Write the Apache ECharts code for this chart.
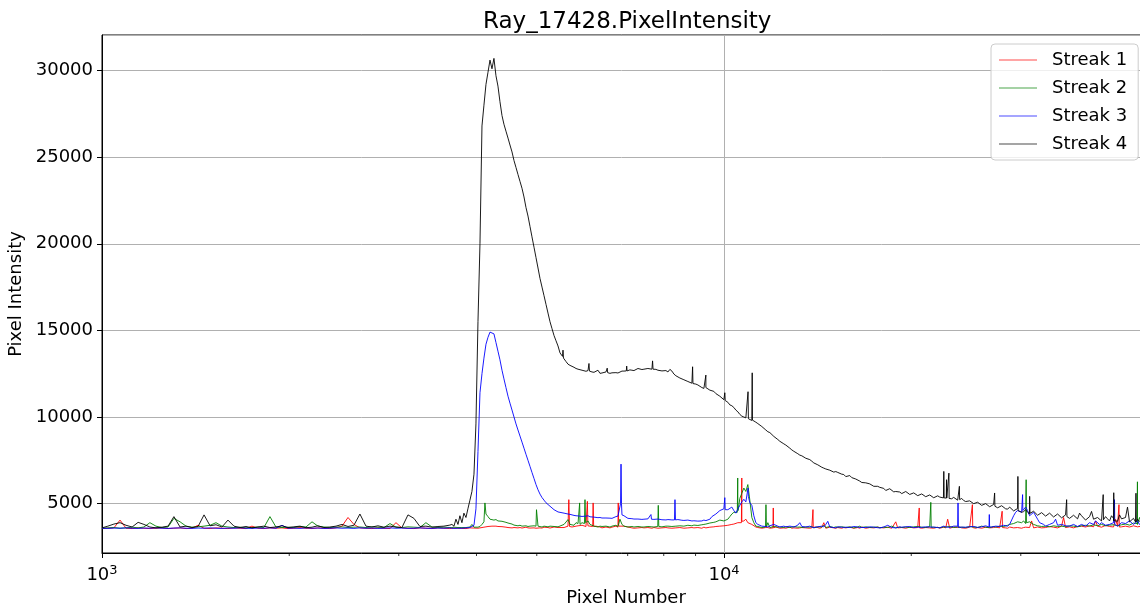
<!DOCTYPE html>
<html><head><meta charset="utf-8">
<script src="https://cdn.jsdelivr.net/npm/echarts@6.0.0/dist/echarts.min.js"></script>
<style>html,body{margin:0;padding:0;background:#fff}#chart{width:1140px;height:606px}</style>
</head><body><div id="chart"></div>
<script>
// Pixel numbers (x positions of the sampled points)
const pixelNumbers = [
1000,1022,1045,1069,1093,1118,1143,1168,1194,1221,
1249,1277,1305,1335,1365,1395,1427,1459,1492,1525,
1559,1594,1630,1667,1704,1742,1781,1821,1862,1904,
1947,1991,2035,2081,2128,2176,2224,2274,2325,2378,
2431,2486,2541,2598,2657,2716,2777,2840,2904,2969,
3035,3104,3173,3244,3317,3392,3468,3546,3625,
3652,3680,3707,3735,3762,3790,3818,3847,3875,3904,
3933,3963,3992,4022,4052,4082,4112,4143,4174,4205,
4236,4267,4299,4331,4363,4396,4428,4461,4495,4528,
4562,4596,4630,4664,4699,4734,4769,4804,4840,4876,
4912,4949,4986,5023,5060,5098,5136,5174,5212,5251,
5290,5330,5369,5409,5449,
5531,5613,5697,5782,5868,5955,6044,6134,6225,6318,
6412,6508,6605,6703,6803,6905,7007,7112,7218,7325,
7435,7545,7658,7772,7888,8005,8125,8246,8369,8493,
8620,8748,8879,9011,9145,9282,9420,9560,9703,9847,
9994,10143,10294,10448,10603,10762,10922,11085,11250,11418,
11588,11761,11936,12114,12295,12478,12664,12853,13044,13239,
13436,13636,13840,14046,14255,14468,14684,14902,15125,15350,
15579,15811,16047,16286,16529,16775,17025,17279,17536,17798,
18063,18332,18605,18883,19164,19450,19740,20034,20332,20635,
20943,21255,21572,21893,22220,22551,22887,23228,23574,23926,
24282,24644,25011,25384,25762,26146,26536,26931,27333,27740,
28153,28573,28999,29431,29869,30315,30766,31225,31690,32163,
32642,33128,33622,34123,34632,35148,35672,36203,36743,37290,
37846,38410,38982,39563,40153,40751,41359,41975,42600,43235,
43880,44533,45197,45871,46554
];
// Extra in-between pixel numbers for the noisy right-hand part
const pixelNumbersFine = [
5572,5655,5739,5825,5912,5999,6089,6180,6271,6365,
6460,6556,6654,6753,6854,6956,7059,7165,7272,7379,
7490,7601,7715,7830,7947,8065,8185,8307,8431,8556,
8684,8813,8945,9078,9213,9351,9490,9631,9775,9920,
10068,10218,10371,10526,10682,10842,11003,11167,11334,11503,
11674,11849,12025,12204,12386,12571,12758,12949,13141,13338,
13536,13737,13943,14150,14361,14576,14793,15013,15238,15464,
15695,15929,16166,16407,16652,16900,17152,17408,17666,17930,
18197,18468,18743,19023,19307,19595,19887,20183,20483,20789,
21099,21413,21732,22056,22385,22719,23057,23401,23749,24104,
24463,24827,25197,25573,25954,26341,26733,27131,27536,27946,
28362,28786,29215,29650,30091,30541,30995,31457,31926,32402,
32885,33374,33872,34377,34890,35409,35937,36472,37016,37567,
38128,38696,39272,39857,40452,41054,41667,42287,42917,43557,
44206,44864,45533,46212,46900
];

// Streak 1 (red) intensity at pixelNumbers
const streak1 = [
3560,3580,3600,4050,3580,3560,3600,3580,3560,3580,
3600,3560,3580,3600,3560,3580,3750,3580,3560,3600,
3580,3560,3600,3580,3560,3700,3580,3560,3600,3580,
3600,3560,3580,3620,3580,3560,3600,3580,3560,3600,
3700,4200,3800,3600,3580,3560,3600,3580,3560,3900,
3600,3580,3560,3600,3580,3560,3600,3580,3560,
3570,3590,3560,3580,3600,3570,3590,3560,3580,3600,
3570,3590,3600,3580,3600,3620,3640,3660,3680,3690,
3700,3690,3700,3680,3690,3670,3650,3640,3620,3610,
3600,3620,3590,3600,3620,3590,3600,3640,3600,3590,
3620,3600,3580,3620,3600,3590,3640,3600,3620,3590,
3600,3650,3600,3620,3600,
3620,3700,3650,3700,3800,3700,3750,3650,3700,3650,
3620,3680,3640,3700,3750,3700,3650,3600,3620,3580,
3600,3620,3580,3600,3620,3580,3600,3580,3600,3620,
3580,3600,3620,3600,3620,3640,3620,3650,3680,3700,
3720,3750,3800,3850,3950,4000,3900,3800,3650,3600,
3580,3620,3600,3650,3580,3600,3620,3580,3640,3600,
3580,3620,3600,3650,3580,3900,3600,3640,3580,3600,
3620,3580,3640,3600,3580,3620,3600,3650,3580,3620,
3600,3640,3580,3950,3600,3650,3580,3620,3600,3640,
3580,3620,3650,3600,3580,3640,4100,3620,3580,3650,
3600,3620,3650,3580,3640,3600,3620,3580,3650,3600,
3620,3580,3640,3600,3650,3620,3580,4000,3600,3620,
3650,3600,3620,3680,3600,4200,3620,3700,3640,3620,
3680,3640,3700,4000,3680,3650,3720,3640,4100,3700,
3650,3700,3640,3680,3650
];
const streak1Fine = [
3650,3620,3680,3720,3750,3680,3700,3680,3640,3600,
3650,3600,3680,3640,3700,3660,3620,3580,3600,3620,
3580,3600,3620,3580,3600,3620,3580,3620,3580,3600,
3620,3580,3600,3620,3580,3600,3640,3660,3700,3680,
3740,3780,3820,3900,3980,4100,3850,3700,3620,3580,
3620,3580,3640,3600,3620,3580,3650,3600,3580,3620,
3600,3580,3640,3600,3620,3580,3640,3600,3620,3580,
3600,3640,3580,3620,3650,3580,3620,3600,3640,3580,
3620,3580,3640,3600,3620,3580,3640,3600,3620,3580,
3620,3600,3580,3640,3620,3600,3580,3650,3620,3600,
3580,3640,3600,3620,3580,3640,3600,3620,3600,3640,
3600,3650,3600,3620,3580,3640,3620,3600,3650,3600,
3620,3680,3640,3600,3700,3620,3660,3600,3680,3700,
3650,3720,3660,3700,3640,3740,3680,3650,3720,3660,
3700,3650,3720,3660,3700
];

// Streak 2 (green)
const streak2 = [
3580,3600,3620,3580,3600,3640,3600,3650,3900,3700,
3620,3650,4150,3950,3700,3640,3660,3700,3750,3900,
3700,3650,3620,3640,3600,3620,3650,3620,4250,3650,
3620,3640,3620,3680,3650,3950,3700,3650,3620,3640,
3660,3620,3640,3650,3620,3660,3640,3620,3850,3640,
3620,3660,3640,3620,3900,3650,3620,3640,3620,
3620,3640,3600,3620,3640,3620,3600,3620,3700,3650,
3800,3640,3620,3640,3680,3800,3950,4400,4250,4100,
4150,4050,4080,4000,4020,3980,3950,3920,3880,3850,
3820,3760,3740,3720,3750,3700,3690,3720,3680,3700,
3680,3720,3700,3700,3680,3650,3700,3680,3660,3700,
3650,3680,3720,3660,3700,
3800,4080,3700,3900,3800,4000,4000,3750,3680,3700,
3650,3680,3700,3750,4100,3700,3650,3680,3640,3700,
3650,3680,3660,3700,3680,3650,3700,3680,3700,3720,
3700,3750,3720,3780,3760,3800,3850,3900,3950,4050,
4000,4100,4400,4600,5300,5900,6100,4200,3700,3650,
3620,3900,3640,3600,3650,3620,3700,3640,3600,3650,
3620,3600,3680,3640,3620,3750,3600,3640,3660,3620,
3650,3600,3640,3620,3700,3600,3640,3660,3620,3600,
3640,3620,3700,3600,3650,3620,3680,3640,3620,3700,
3640,3620,3660,3700,3620,3650,3620,3700,3640,3620,
3650,3620,3700,3640,3620,3680,3650,3700,3640,3700,
3680,3750,3800,3900,3850,4000,3800,3900,3750,3700,
3650,3700,3680,3720,3650,3700,3750,3680,3700,3650,
3700,3750,3680,3800,3700,3750,3800,3700,3750,3800,
3750,3900,3800,3850,4200
];
const streak2Fine = [
3720,3800,3750,3850,3900,3850,3800,3700,3650,3680,
3700,3650,3720,3680,3800,3680,3700,3650,3680,3650,
3680,3700,3650,3680,3660,3700,3680,3700,3660,3700,
3720,3700,3760,3740,3780,3820,3880,3920,4000,4020,
4050,4250,4500,4800,5600,5700,5200,3900,3680,3620,
3650,3620,3680,3650,3620,3660,3620,3680,3640,3620,
3650,3640,3600,3660,3650,3620,3680,3620,3640,3660,
3620,3660,3600,3650,3620,3660,3620,3640,3650,3620,
3660,3640,3620,3680,3620,3650,3620,3660,3680,3640,
3620,3680,3640,3620,3660,3640,3680,3620,3660,3640,
3620,3680,3650,3620,3700,3640,3620,3680,3660,3700,
3720,3800,3850,3950,3900,3850,3950,3800,3720,3680,
3700,3660,3720,3680,3700,3660,3720,3700,3660,3720,
3750,3700,3780,3720,3800,3720,3760,3780,3720,3780,
3820,3760,3880,3800,3900
];

// Streak 3 (blue)
const streak3 = [
3580,3570,3590,3580,3600,3580,3570,3590,3580,3600,
3580,3570,3590,3600,3580,3570,3590,3580,3600,3580,
3570,3590,3580,3600,3580,3570,3590,3580,3600,3580,
3750,3580,3590,3570,3600,3580,3590,3570,3580,3600,
3580,3590,3570,3600,3580,3590,3570,3580,3600,3580,
3590,3570,3580,3600,3580,3570,3590,3580,3600,
3580,3570,3590,3580,3600,3580,3590,3600,3610,3620,
3650,3750,4700,8000,11400,12500,13400,14200,14600,14900,
15000,14800,14300,13800,13300,12700,12200,11700,11200,10800,
10400,10000,9600,9250,8900,8550,8200,7850,7500,7150,
6800,6450,6100,5800,5550,5350,5200,5050,4950,4850,
4750,4650,4580,4520,4480,
4450,4400,4350,4300,4270,4250,4300,4200,4180,4200,
4150,4180,4150,4250,4300,4300,4150,4130,4100,4120,
4100,4120,4100,4080,4100,4050,4080,4060,4150,4050,
4030,4050,4000,4020,3980,4050,4000,4250,4400,4600,
4700,4650,4800,4450,4900,5250,5200,4900,3900,3750,
3700,3650,3700,3900,3650,3700,3620,3680,3650,3900,
3620,3680,3640,3700,3620,3660,3980,3640,3600,3680,
3620,3650,3600,3700,3620,3640,3600,3680,3620,3600,
3650,3750,3620,3600,3650,3620,3700,3640,3600,3660,
3620,3700,3620,3650,3600,3700,3640,3620,3800,3650,
3650,3620,3700,3640,3620,3700,3750,3650,3700,3680,
3750,3700,3900,4500,4700,4600,4600,4200,4400,3900,
3800,3750,3700,4100,3700,3750,3800,3680,3750,3700,
3800,3750,3900,4000,3800,3850,3700,3800,3800,3750,
4000,3800,4100,3900,3800
];
const streak3Fine = [
4420,4380,4320,4290,4260,4280,4240,4220,4190,4170,
4170,4160,4200,4280,4350,4200,4140,4110,4110,4090,
4110,4090,4090,4110,4070,4060,4070,4100,4080,4040,
4040,4020,4010,3990,4000,4020,4100,4350,4500,4680,
4600,4750,4600,4700,5100,5100,5050,4300,3800,3700,
3680,3720,3800,3700,3680,3660,3700,3640,3760,3680,
3650,3700,3620,3660,3700,3800,3650,3620,3660,3640,
3640,3620,3680,3650,3630,3620,3660,3640,3610,3630,
3700,3680,3610,3630,3640,3660,3680,3620,3640,3630,
3660,3650,3640,3620,3680,3660,3630,3700,3700,3640,
3640,3660,3680,3630,3660,3720,3700,3680,3690,3720,
3720,3800,4300,4600,4500,4800,4300,4500,4100,3850,
3700,3800,3900,3750,3800,3720,3700,3800,3680,3800,
3700,3900,3800,3950,3900,3750,3800,3900,3700,3900,
3850,4000,3800,4000,3700
];

// Streak 4 (black)
const streak4 = [
3600,3700,3820,3900,3750,3650,3920,3800,3650,3600,
3640,3700,4250,3650,3700,3620,3680,4350,3720,3780,
3650,4050,3700,3620,3680,3600,3650,3700,3620,3650,
3720,3620,3660,3700,3610,3640,3720,3620,3650,3700,
3800,3680,3750,4400,3700,3650,3720,3640,3700,3650,
3620,4350,4150,3680,3700,3640,3680,3700,3760,
3800,3700,4100,3800,4300,3900,4450,4200,4700,5200,
5700,6700,9600,15500,20000,26800,28000,29200,29900,30600,
30100,30700,29700,29100,28200,27400,26900,26500,26100,25700,
25300,24800,24400,24000,23600,23200,22700,22100,21600,21000,
20400,19800,19200,18600,18000,17500,17000,16500,16000,15500,
15100,14700,14400,14100,13700,
13450,13050,12900,12800,12750,12650,12680,12600,12550,12520,
12550,12560,12550,12560,12600,12650,12680,12700,12750,12780,
12760,12800,12760,12750,12680,12620,12600,12650,12380,12250,
12150,12050,11950,11900,11800,11650,11620,11600,11350,11200,
11000,10850,10650,10400,10150,10000,9900,9800,9700,9550,
9350,9150,9000,8800,8600,8450,8300,8100,7950,7800,
7700,7600,7450,7300,7150,7050,6950,6880,6850,6750,
6680,6580,6500,6420,6300,6250,6120,6080,5980,5940,
5880,5780,5790,5700,5670,5600,5640,5560,5550,5480,
5500,5420,5430,5360,5380,5330,5340,5280,5290,5220,
5180,5080,5090,4980,5000,4900,4920,4840,4880,4780,
4800,4680,4700,4600,4650,4540,4500,4420,4450,4350,
4400,4300,4350,4250,4320,4220,4280,4180,4250,4450,
4200,4100,4550,4060,4150,4040,4120,4300,4100,4350,
4080,4800,4050,3940,3980
];
const streak4Fine = [
13200,12980,12870,12760,12700,12640,12620,12580,12700,12540,
12600,12520,12600,12540,12650,12620,12720,12680,12800,12740,
12820,12750,12800,12700,12660,12680,12750,12480,12320,12200,
12100,12000,11920,11850,11700,11700,11550,11480,11300,11100,
10950,10700,10550,10300,10050,9950,9850,9780,9620,9450,
9250,9100,8880,8700,8550,8380,8200,8020,7880,7760,
7620,7540,7350,7240,7100,7000,6930,6820,6800,6700,
6560,6620,6400,6440,6220,6200,6140,6000,6000,5860,
5760,5860,5680,5780,5580,5700,5530,5620,5460,5560,
5400,5500,5340,5450,5300,5400,5260,5360,5200,5300,
5120,5160,5000,5080,4900,5000,4820,4950,4760,4880,
4700,4800,4580,4720,4500,4650,4400,4560,4330,4480,
4280,4450,4230,4400,4180,4350,4150,4330,4120,4300,
4050,4250,4100,4200,4000,4250,4000,4150,3980,4120,
4200,3950,4150,4100,3900
];

// Narrow spikes [pixel number, intensity]
const streak1Spikes = [
[5615,3650],[5630,5230],[5645,3680],
[6018,3700],[6030,5130],[6042,3720],
[6150,3680],[6160,5040],[6172,3680],
[6748,3700],[6760,5040],[6772,3700],
[10665,3900],[10680,6480],[10695,3950],
[11985,3600],[12000,4750],[12015,3600],
[13885,3620],[13900,4655],[13915,3620],
[20580,3600],[20600,4750],[20620,3600],
[25050,3620],[25080,4940],[25110,3620],
[27970,3620],[28000,4560],[28030,3620],
[43100,3650],[43150,4940],[43200,3650]
];
const streak2Spikes = [
[4127,5040],
[4995,4650],
[5850,3750],[5860,5040],[5875,3800],
[5965,3850],[5977,5230],[5990,3900],
[7825,3680],[7840,4900],[7855,3680],
[10505,4500],[10520,6480],[10535,4600],
[11660,3650],[11680,4940],[11700,3650],
[21470,3630],[21500,5075],[21530,3630],
[30570,3900],[30600,6380],[30630,3900],
[46150,3850],[46200,6260],[46250,3900]
];
const streak3Spikes = [
[6800,4350],[6818,5000],[6830,7280],[6842,5000],[6860,4300],
[7615,4100],[7630,4370],[7645,4100],
[8325,4060],[8340,5230],[8355,4060],
[10015,4650],[10030,5345],[10045,4650],
[10915,5200],[10930,5900],[10945,5400],
[23750,3640],[23780,5040],[23810,3640],
[26670,3650],[26700,4370],[26730,3650],
[30170,4600],[30200,5520],[30230,4600],
[42400,3800],[42440,5230],[42480,3800]
];
const streak4Spikes = [
[5500,13500],[5510,13860],[5520,13400],
[6055,12700],[6066,13090],[6077,12650],
[6480,12560],[6490,12820],[6500,12560],
[6965,12660],[6975,12940],[6985,12660],
[7665,12780],[7676,13240],[7690,12760],
[8890,11950],[8902,12900],[8914,11930],
[9335,11680],[9350,12420],[9365,11650],
[10015,11000],[10030,11400],[10045,10950],
[10915,9920],[10930,11460],[10945,9900],
[11090,9850],[11100,12550],[11110,9820],
[22530,5330],[22560,6860],[22590,5330],
[22770,5320],[22790,6380],[22810,5320],
[22970,5310],[22990,6760],[23010,5300],
[23880,5240],[23900,6000],[23920,5230],
[27200,4850],[27230,5615],[27260,4850],
[29660,4610],[29680,6570],[29710,4600],
[30970,4450],[31000,5420],[31030,4440],
[35510,4260],[35550,5230],[35590,4250],
[40660,4080],[40700,5520],[40740,4070],
[42300,4020],[42320,5630],[42360,4020],
[45900,3960],[45950,5600],[46000,3960]
];

const seriesNames = ['Streak 1','Streak 2','Streak 3','Streak 4'];
const seriesColors = ['#ff0000','#008000','#0000ff','#000000'];
const xMinorTicks = [2000,3000,4000,5000,6000,7000,8000,9000,20000,30000,40000];
const X_MIN = 1000, X_MAX = 48400, Y_MIN = 2150, Y_MAX = 32050;

const allValues = [streak1, streak2, streak3, streak4];
const allFine = [streak1Fine, streak2Fine, streak3Fine, streak4Fine];
const allSpikes = [streak1Spikes, streak2Spikes, streak3Spikes, streak4Spikes];
allValues.forEach((a, i) => { if (a.length !== pixelNumbers.length) throw new Error('length mismatch ' + i + ': ' + a.length); });
allFine.forEach((a, i) => { if (a.length !== pixelNumbersFine.length) throw new Error('fine length mismatch ' + i + ': ' + a.length); });

function build(values, fine, spikes) {
  const pts = pixelNumbers.map((x, i) => [x, values[i]])
    .concat(pixelNumbersFine.map((x, i) => [x, fine[i]]))
    .concat(spikes.map(p => [p[0], p[1]]));
  pts.sort((a, b) => a[0] - b[0]);
  return pts;
}

const FONT = 'DejaVu Sans';
const chart = echarts.init(document.getElementById('chart'), null, {renderer: 'canvas'});
const series = allValues.map((vals, i) => ({
  name: seriesNames[i], type: 'line', data: build(vals, allFine[i], allSpikes[i]),
  showSymbol: false, symbol: 'none', silent: true, clip: true, z: 2 + i,
  lineStyle: {color: seriesColors[i], width: 0.9},
  itemStyle: {color: seriesColors[i]}
}));
series.push({
  name: 'minor', type: 'custom', silent: true, clip: false, z: 10,
  data: xMinorTicks.map(v => [v, Y_MIN]), encode: {x: 0, y: 1},
  renderItem: function (params, api) {
    const p = api.coord([api.value(0), api.value(1)]);
    return {type: 'line', shape: {x1: p[0], y1: p[1], x2: p[0], y2: p[1] + 3}, style: {stroke: '#000', lineWidth: 0.8}};
  }
});

chart.setOption({
  animation: false,
  textStyle: {fontFamily: FONT},
  title: {text: 'Ray_17428.PixelIntensity', left: 478, top: 6,
    textStyle: {fontSize: 23, fontWeight: 'normal', color: '#000', fontFamily: FONT}},
  legend: {data: seriesNames, orient: 'vertical', left: 991, top: 44, padding: [6, 11, 6, 8],
    itemGap: 8, itemWidth: 38, itemHeight: 1, icon: 'rect', selectedMode: false,
    itemStyle: {opacity: 0.7},
    textStyle: {fontSize: 18, color: '#000', lineHeight: 20, padding: [0, 0, 0, 10], fontFamily: FONT},
    backgroundColor: 'rgba(255,255,255,0.8)', borderColor: '#cccccc', borderWidth: 1, borderRadius: 4},
  grid: {left: 102, right: -10, top: 35, bottom: 53, show: true, borderColor: '#000', borderWidth: 1,
    backgroundColor: 'transparent', containLabel: false, outerBoundsMode: 'none'},
  xAxis: {type: 'log', logBase: 10, min: X_MIN, max: X_MAX,
    name: 'Pixel Number', nameLocation: 'middle', nameGap: 31,
    nameTextStyle: {fontSize: 18, color: '#000', fontFamily: FONT},
    axisLine: {show: true, lineStyle: {color: '#000', width: 1}},
    axisTick: {show: true, length: 5, lineStyle: {color: '#000', width: 1}},
    minorTick: {show: false},
    splitLine: {show: true, lineStyle: {color: '#b0b0b0', width: 1}},
    axisLabel: {margin: 11, showMaxLabel: false, color: '#000',
      formatter: function (v) { return '{b|10}{s|' + Math.round(Math.log10(v)) + '}'; },
      rich: {b: {fontSize: 18, lineHeight: 22, color: '#000', fontFamily: FONT},
             s: {fontSize: 13, lineHeight: 10, verticalAlign: 'top', color: '#000', fontFamily: FONT}}}},
  yAxis: {type: 'value', min: Y_MIN, max: Y_MAX, splitNumber: 6,
    name: 'Pixel Intensity', nameLocation: 'middle', nameGap: 61,
    nameTextStyle: {fontSize: 18, color: '#000', fontFamily: FONT},
    axisLine: {show: true, lineStyle: {color: '#000', width: 1}},
    axisTick: {show: true, length: 5, lineStyle: {color: '#000', width: 1}},
    splitLine: {show: true, lineStyle: {color: '#b0b0b0', width: 1}},
    axisLabel: {margin: 9, fontSize: 18, color: '#000', showMinLabel: false, showMaxLabel: false, fontFamily: FONT,
      formatter: function (v) { return String(v); }}},
  series: series
});
</script>
</body></html>
